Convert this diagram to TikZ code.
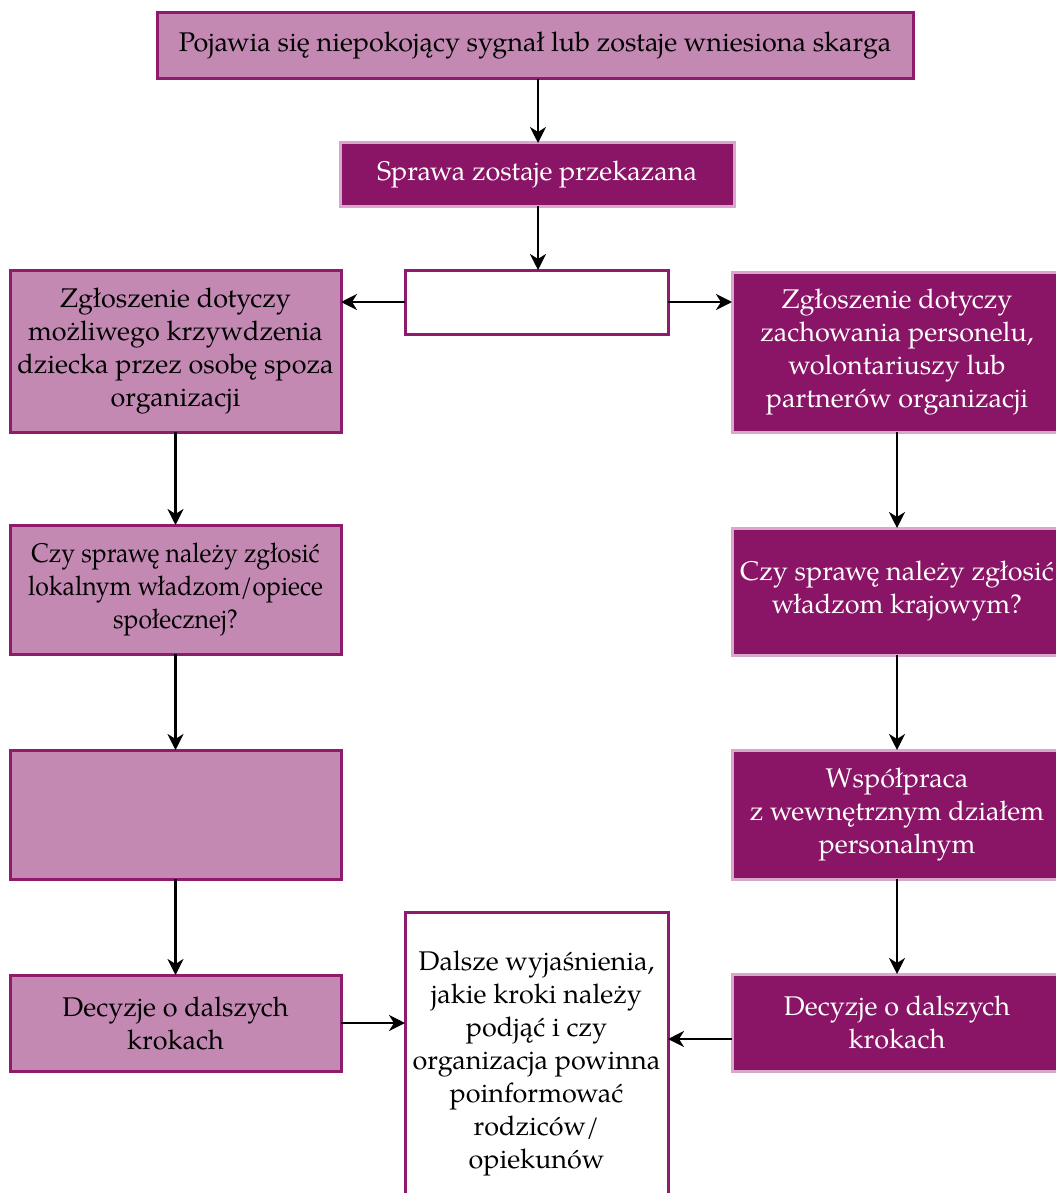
\documentclass[tikz,border=0pt]{standalone}
\usepackage{fontspec}
\setmainfont{texgyrepagella}[Extension=.otf, UprightFont=*-regular, BoldFont=*-bold, ItalicFont=*-italic]
\newfontfamily\condfont{texgyrepagella}[Extension=.otf, UprightFont=*-regular, FakeStretch=0.92]
\usetikzlibrary{arrows.meta,calc}
\definecolor{lightfill}{HTML}{C389B3}
\definecolor{darkline}{HTML}{8E1B6E}
\definecolor{darkfill}{HTML}{8A1566}
\definecolor{lightline}{HTML}{D9A6CC}
\tikzset{
  basebox/.style={rectangle, inner sep=0pt, outer sep=0pt, line width=3pt, align=center,
    font=\fontsize{27}{33}\selectfont},
  lbox/.style={basebox, fill=lightfill, draw=darkline, text=black},
  dbox/.style={basebox, fill=darkfill, draw=lightline, text=white},
  wbox/.style={basebox, fill=white, draw=darkline, text=black},
  arrtip/.tip={Stealth[length=16pt,width=16pt,inset=5pt]},
  arr/.style={line width=2.7pt, -arrtip}
}
\begin{document}
\begin{tikzpicture}[x=1pt,y=-1pt]
\useasboundingbox (0,0) rectangle (1056,1193);
\clip (0,0) rectangle (1056,1193);
\fill[white] (0,0) rectangle (1056,1193);
\node[lbox, minimum width=756, minimum height=66] (top) at (535,46) {Pojawia się niepokojący sygnał lub zostaje wniesiona skarga};
\node[dbox, minimum width=394, minimum height=63] (b2) at (537,174.5) {Sprawa zostaje przekazana};
\node[wbox, minimum width=263, minimum height=64] (e) at (536.5,302) {};
\node[lbox, minimum width=331, minimum height=162] (l1) at (175.5,351) {Zgłoszenie dotyczy\\możliwego krzywdzenia\\dziecka przez osobę spoza\\organizacji};
\node[dbox, minimum width=330, minimum height=160] (r1) at (897,352) {Zgłoszenie dotyczy\\zachowania personelu,\\wolontariuszy lub\\partnerów organizacji};
\node[lbox, minimum width=331, minimum height=129, font=\condfont\fontsize{27}{33}\selectfont] (l2) at (175.5,589.5) {Czy sprawę należy zgłosić\\lokalnym władzom/opiece\\społecznej?};
\node[dbox, minimum width=330, minimum height=127] (r2) at (897,591.5) {Czy sprawę należy zgłosić\\władzom krajowym?};
\node[lbox, minimum width=331, minimum height=129] (l3) at (175.5,814.5) {};
\node[dbox, minimum width=330, minimum height=129] (r3) at (897,814.5) {Współpraca\\z wewnętrznym działem\\personalnym};
\node[lbox, minimum width=331, minimum height=96] (l4) at (175.5,1023) {Decyzje o dalszych\\krokach};
\node[dbox, minimum width=330, minimum height=97] (r4) at (897,1022.5) {Decyzje o dalszych\\krokach};
\node[wbox, minimum width=263, minimum height=302] (c) at (536.5,1063) {Dalsze wyjaśnienia,\\jakie kroki należy\\podjąć i czy\\organizacja powinna\\poinformować\\rodziców/\\opiekunów};
\draw[arr] (top.south -| b2.north) ++(1,0) -- ($(b2.north)+(1,0)$);
\draw[arr] ($(b2.south)+(1,0)$) -- ($(e.north)+(1.5,0)$);
\draw[arr] (e.west) -- (e.west -| l1.east);
\draw[arr] (e.east) -- (e.east -| r1.west);
\draw[arr] (l1.south) -- (l2.north);
\draw[arr] (l2.south) -- (l3.north);
\draw[arr] (l3.south) -- (l4.north);
\draw[arr] (r1.south) -- (r2.north);
\draw[arr] (r2.south) -- (r3.north);
\draw[arr] (r3.south) -- (r4.north);
\draw[arr] (l4.east) -- (l4.east -| c.west);
\coordinate (r4a) at ($(r4.west)+(0,16.5)$);
\draw[arr] (r4a) -- (r4a -| c.east);
\end{tikzpicture}
\end{document}
